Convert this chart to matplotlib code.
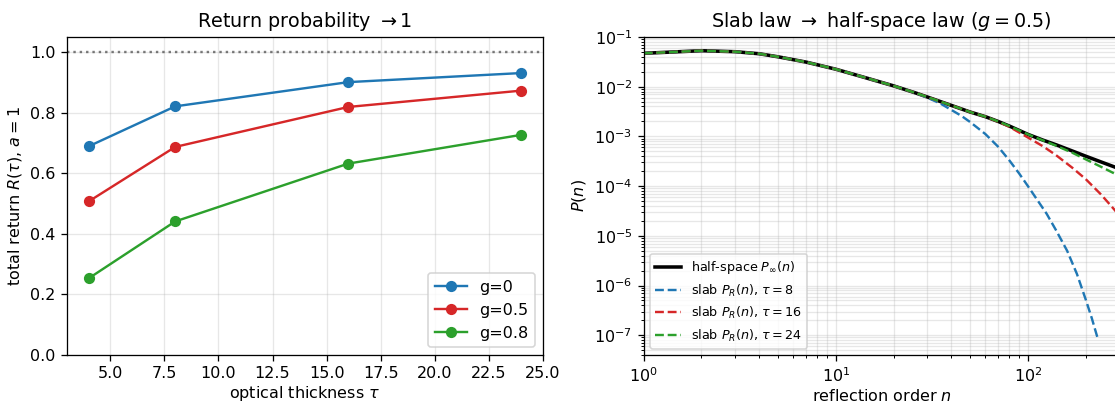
import matplotlib
matplotlib.use("Agg")
import matplotlib.pyplot as plt

# left panel: total return vs optical thickness
tau = [4, 8, 16, 24]
ret_g0 = [0.689, 0.821, 0.901, 0.931]
ret_g05 = [0.507, 0.687, 0.819, 0.873]
ret_g08 = [0.253, 0.441, 0.632, 0.727]
left_xticks = [5.0, 7.5, 10.0, 12.5, 15.0, 17.5, 20.0, 22.5, 25.0]

# right panel: reflection order distributions (g = 0.5)
n_half = [1, 2, 3, 4, 5, 7, 10, 14, 20, 26, 30, 40, 50, 60, 70, 80,
          100, 120, 140, 170, 200, 240, 283, 300]
p_half = [0.047, 0.053, 0.0506, 0.046, 0.040, 0.0313, 0.0225, 0.0155,
          0.0104, 0.0075, 0.0062, 0.0042, 0.0031, 0.0025, 0.0020, 0.00162,
          0.00110, 8.4e-4, 6.8e-4, 5.1e-4, 4.0e-4, 3.07e-4, 2.42e-4, 2.22e-4]

n_tau8 = [1, 2, 3, 4, 5, 7, 10, 14, 20, 26, 30, 35, 40, 45, 50, 60, 70, 80,
          90, 100, 110, 125, 140, 160, 180, 200, 215, 231]
p_tau8 = [0.047, 0.053, 0.0506, 0.046, 0.040, 0.0313, 0.0225, 0.0155,
          0.0104, 0.0075, 0.0060, 0.0046, 0.0034, 0.0026, 0.00195, 0.00112,
          6.2e-4, 3.3e-4, 1.8e-4, 1.0e-4, 5.8e-5, 2.8e-5, 1.3e-5, 5.0e-6,
          1.7e-6, 5.2e-7, 2.2e-7, 8.5e-8]

n_tau16 = [1, 2, 3, 4, 5, 7, 10, 14, 20, 26, 30, 40, 50, 60, 70, 80,
           100, 120, 140, 170, 200, 240, 283, 300]
p_tau16 = [0.047, 0.053, 0.0506, 0.046, 0.040, 0.0313, 0.0225, 0.0155,
           0.0104, 0.0075, 0.0062, 0.0042, 0.0031, 0.0025, 0.00198, 0.00156,
           9.5e-4, 6.3e-4, 4.2e-4, 2.35e-4, 1.38e-4, 6.8e-5, 3.3e-5, 2.5e-5]

n_tau24 = [1, 2, 3, 4, 5, 7, 10, 14, 20, 26, 30, 40, 50, 60, 70, 80,
           100, 120, 140, 170, 200, 240, 283, 300]
p_tau24 = [0.047, 0.053, 0.0506, 0.046, 0.040, 0.0313, 0.0225, 0.0155,
           0.0104, 0.0075, 0.0062, 0.0042, 0.0031, 0.0025, 0.0020, 0.00162,
           0.00110, 8.3e-4, 6.5e-4, 4.7e-4, 3.45e-4, 2.45e-4, 1.78e-4, 1.6e-4]

W, H = 1115, 404
fig = plt.figure(figsize=(W / 115, H / 115), dpi=115)

# axes placed in pixels to match the reference layout
ax1 = fig.add_axes([67 / W, (H - 355) / H, 476 / W, 318 / H])
ax2 = fig.add_axes([643.6 / W, (H - 355) / H, 476 / W, 318 / H])

# Left panel
ax1.plot(tau, ret_g0, "o-", color="tab:blue", label="g=0")
ax1.plot(tau, ret_g05, "o-", color="tab:red", label="g=0.5")
ax1.plot(tau, ret_g08, "o-", color="tab:green", label="g=0.8")
ax1.axhline(1.0, color="k", ls=":", alpha=0.5)
ax1.set_xlim(3, 25)
ax1.set_ylim(0, 1.05)
ax1.set_xticks(left_xticks)
ax1.set_xlabel(r"optical thickness $\tau$", labelpad=2)
ax1.set_ylabel(r"total return $R(\tau)$, $a=1$")
ax1.set_title(r"Return probability $\to 1$")
ax1.grid(alpha=0.3)
ax1.legend(loc="lower right")

# Right panel
ax2.loglog(n_half, p_half, "k-", lw=2.2, label=r"half-space $P_\infty(n)$")
ax2.loglog(n_tau8, p_tau8, "--", color="tab:blue", label=r"slab $P_R(n)$, $\tau=8$")
ax2.loglog(n_tau16, p_tau16, "--", color="tab:red", label=r"slab $P_R(n)$, $\tau=16$")
ax2.loglog(n_tau24, p_tau24, "--", color="tab:green", label=r"slab $P_R(n)$, $\tau=24$")
ax2.set_xlim(1, 300)
ax2.set_ylim(4e-8, 1e-1)
ax2.set_xlabel(r"reflection order $n$", labelpad=2)
ax2.set_ylabel(r"$P(n)$")
ax2.set_title(r"Slab law $\to$ half-space law ($g=0.5$)")
ax2.grid(which="both", alpha=0.3)
ax2.legend(loc="lower left", fontsize=8)

fig.savefig("out.png", dpi=115)
